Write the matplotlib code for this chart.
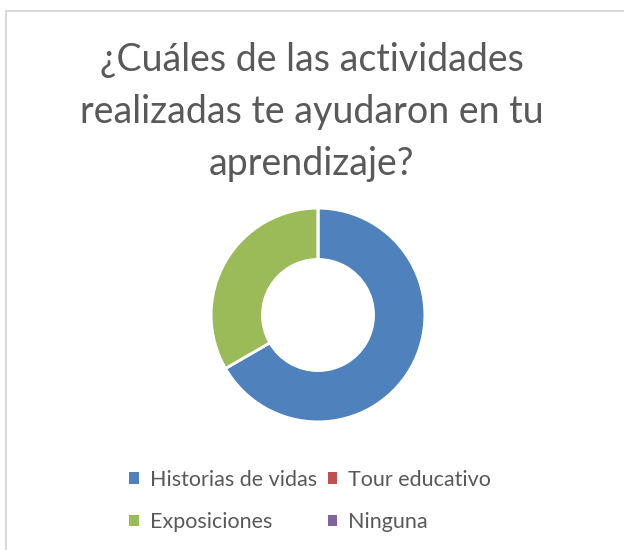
import matplotlib
matplotlib.use("Agg")
import matplotlib.pyplot as plt
from matplotlib.patches import Patch
from matplotlib.lines import Line2D

categories = ["Historias de vidas", "Tour educativo", "Exposiciones", "Ninguna"]
values = [2, 0, 1, 0]
colors = ["#4F81BD", "#C0504D", "#9BBB59", "#8064A2"]
title = "¿Cuáles de las actividades\nrealizadas te ayudaron en tu\naprendizaje?"

plt.rcParams['font.family'] = ['Lato', 'DejaVu Sans']
W, H = 624, 550
fig = plt.figure(figsize=(W/100, H/100), dpi=100)

# border lines
fig.add_artist(Line2D([6/W, 6/W], [0, 1 - 11/H], color="#d9d9d9", lw=1.5, transform=fig.transFigure))
fig.add_artist(Line2D([6/W, 1], [1 - 11/H, 1 - 11/H], color="#d9d9d9", lw=1.5, transform=fig.transFigure))

cx, cy, r = 318, 315, 109
ax = fig.add_axes([(cx - r)/W, (H - cy - r)/H, 2*r/W, 2*r/H])
ax.pie(values, colors=colors, startangle=90, counterclock=False, radius=1,
       wedgeprops=dict(width=0.48, edgecolor="white", linewidth=2))
ax.set_xlim(-1.02, 1.02)
ax.set_ylim(-1.02, 1.02)
ax.set_aspect("equal")
ax.axis("off")

fig.text(312/W, 1 - 112/H, title, ha="center", va="center", fontsize=27,
         color="#595959", linespacing=1.55)

handles = [Patch(facecolor=c, edgecolor="none") for c in colors]
order = [0, 2, 1, 3]
fig.legend([handles[i] for i in order], [categories[i] for i in order],
           ncol=2, loc="center", bbox_to_anchor=(310/W, 1 - 501/H),
           frameon=False, fontsize=15.5, labelcolor="#595959",
           handlelength=0.45, handleheight=0.45, handletextpad=0.5,
           columnspacing=0.5, labelspacing=1.03)

fig.savefig("out.png", dpi=100, facecolor="white")
